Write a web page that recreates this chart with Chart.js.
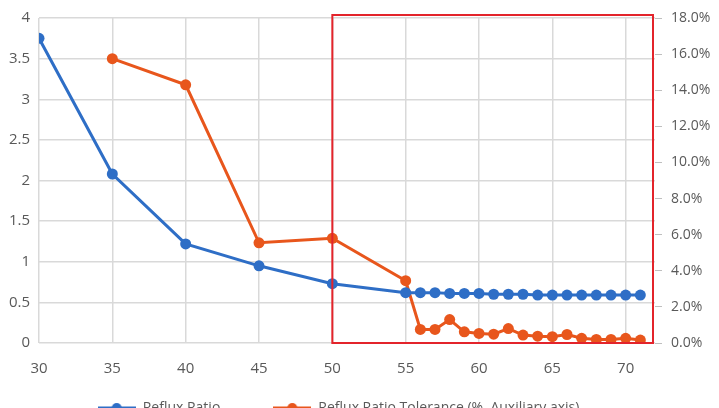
<!DOCTYPE html>
<html>
<head>
<meta charset="utf-8">
<script src="https://cdn.jsdelivr.net/npm/chart.js@4.4.1/dist/chart.umd.min.js"></script>
<style>
  html, body { margin: 0; padding: 0; background: #fff; overflow: hidden; }
  #wrap { position: absolute; left: -10px; top: 0; width: 729px; height: 468px; }
</style>
</head>
<body>
<div id="wrap"><canvas id="chart"></canvas></div>
<script>
// Stage values and series
const stages = [30, 35, 40, 45, 50, 55, 56, 57, 58, 59, 60, 61, 62, 63, 64, 65, 66, 67, 68, 69, 70, 71]
const refluxRatio = [3.75, 2.08, 1.22, 0.95, 0.73, 0.62, 0.62, 0.62, 0.61, 0.61, 0.61, 0.60, 0.60, 0.60, 0.59, 0.59, 0.59, 0.59, 0.59, 0.59, 0.59, 0.59]
const ratioTolerance = [null, 15.75, 14.3, 5.55, 5.8, 3.45, 0.75, 0.75, 1.3, 0.62, 0.53, 0.49, 0.8, 0.44, 0.38, 0.35, 0.47, 0.26, 0.2, 0.2, 0.26, 0.16]
const seriesNames = ['Reflux Ratio', 'Reflux Ratio Tolerance (%, Auxiliary axis)']

const BLUE = '#2E6EC6'
const ORANGE = '#E8561C'
const TEXT = '#595959'
const GRID = '#d9d9d9'
const FONT = { family: 'Open Sans', size: 15 }

// Excel-like legend marker: short line with a dot in the middle
function legendMarker(color) {
  const c = document.createElement('canvas')
  c.width = 38
  c.height = 12
  const g = c.getContext('2d')
  g.strokeStyle = color
  g.lineWidth = 3
  g.beginPath()
  g.moveTo(0, 6)
  g.lineTo(38, 6)
  g.stroke()
  g.fillStyle = color
  g.beginPath()
  g.arc(19, 6, 5, 0, Math.PI * 2)
  g.fill()
  return c
}

// Red highlight frame from stage 50 to the right edge of the plot
const highlightBox = {
  id: 'highlightBox',
  afterDatasetsDraw(chart) {
    const { ctx, chartArea, scales } = chart
    const left = scales.x.getPixelForValue(50)
    ctx.save()
    ctx.strokeStyle = '#E3242B'
    ctx.lineWidth = 2
    ctx.strokeRect(left, chartArea.top - 3, chartArea.right - 2 - left, chartArea.bottom - chartArea.top + 3)
    ctx.restore()
  }
}

// Nudge the legend up/left so it sits where the reference has it
const legendNudge = {
  id: 'legendNudge',
  afterLayout(chart) {
    const lg = chart.legend
    if (!lg) return
    lg.left -= 16
    lg.right -= 16
    lg.top -= 43
    lg.bottom -= 43
  }
}

const toPoints = (vals) => stages.map((s, i) => ({ x: s, y: vals[i] }))

new Chart(document.getElementById('chart'), {
  type: 'line',
  data: {
    datasets: [
      {
        label: seriesNames[0],
        data: toPoints(refluxRatio),
        borderColor: BLUE,
        backgroundColor: BLUE,
        borderWidth: 3,
        pointRadius: 5.5,
        pointBorderWidth: 0,
        yAxisID: 'y'
      },
      {
        label: seriesNames[1],
        data: toPoints(ratioTolerance),
        borderColor: ORANGE,
        backgroundColor: ORANGE,
        borderWidth: 3,
        pointRadius: 5.5,
        pointBorderWidth: 0,
        yAxisID: 'y1'
      }
    ]
  },
  options: {
    responsive: true,
    maintainAspectRatio: false,
    animation: false,
    layout: { padding: { top: 15, right: 0, left: 0, bottom: 0 } },
    plugins: {
      tooltip: { enabled: false },
      legend: {
        position: 'bottom',
        labels: {
          color: TEXT,
          font: { family: 'Open Sans', size: 14 },
          usePointStyle: true,
          pointStyleWidth: 38,
          padding: 53,
          generateLabels(chart) {
            return chart.data.datasets.map((ds, i) => ({
              text: ds.label,
              fontColor: TEXT,
              pointStyle: legendMarker(ds.borderColor),
              datasetIndex: i,
              hidden: false,
              lineWidth: 0
            }))
          }
        }
      }
    },
    scales: {
      x: {
        type: 'linear',
        min: 30,
        max: 72,
        afterBuildTicks(scale) {
          scale.ticks = scale.ticks.filter(t => t.value % 5 === 0)
        },
        afterFit(scale) { scale.height = 48 },
        ticks: { stepSize: 5, color: TEXT, font: FONT, padding: 17 },
        grid: { color: GRID, lineWidth: 1.5, drawTicks: false },
        border: { display: false }
      },
      y: {
        position: 'left',
        min: 0,
        max: 4,
        afterFit(scale) { scale.width = 49 },
        ticks: { stepSize: 0.5, color: TEXT, font: FONT, padding: 9, callback: v => String(v) },
        grid: { color: GRID, lineWidth: 1.5, drawTicks: false },
        border: { display: false }
      },
      y1: {
        position: 'right',
        min: 0,
        max: 18,
        afterFit(scale) { scale.width = 64 },
        ticks: {
          stepSize: 2,
          color: TEXT,
          font: { family: 'Open Sans', size: 14 },
          padding: 9,
          callback: v => v.toFixed(1) + '%'
        },
        grid: { drawOnChartArea: false, color: '#bfbfbf', tickLength: 7, lineWidth: 1 },
        border: { display: false }
      }
    }
  },
  plugins: [highlightBox, legendNudge]
})
</script>
</body>
</html>
